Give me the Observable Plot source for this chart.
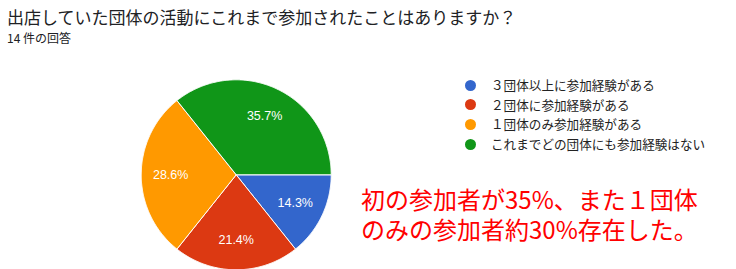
<!DOCTYPE html>
<html>
<head>
<meta charset="utf-8">
<script src="https://cdn.jsdelivr.net/npm/d3@7"></script>
<script src="https://cdn.jsdelivr.net/npm/@observablehq/plot@0.6"></script>
<style>
  html, body { margin: 0; padding: 0; background: #fff; }
  body { width: 736px; height: 269px; position: relative; overflow: hidden; font-family: "Noto Sans CJK JP", "Noto Sans", sans-serif; }
  #header { position: relative; height: 54px; }
  #title { position: absolute; left: 7px; top: 5px; font-size: 17px; color: #202124; white-space: nowrap; line-height: 24px; }
  #subtitle { position: absolute; left: 7px; top: 29px; font-size: 12px; color: #202124; white-space: nowrap; line-height: 18px; }
  #chart { position: relative; height: 215px; }
  #legend { position: absolute; left: 464px; top: 75px; font-size: 12.6px; color: #222; }
  .row { position: relative; height: 19.7px; line-height: 19.7px; padding-left: 27px; white-space: nowrap; }
  .sw { position: absolute; left: 0.5px; top: 4.6px; width: 11px; height: 11px; border-radius: 50%; }
  .note { position: absolute; left: 361px; font-size: 24px; line-height: 28px; color: #ff0000; white-space: nowrap; font-family: "Noto Sans CJK JP", sans-serif; }
</style>
</head>
<body>
<div id="header">
  <div id="title">出店していた団体の活動にこれまで参加されたことはありますか？</div>
  <div id="subtitle">14 件の回答</div>
</div>
<div id="chart"></div>
<div id="legend"></div>
<div class="note" style="top:185px">初の参加者が35%、また１団体</div>
<div class="note" style="top:215px">のみの参加者約30%存在した。</div>
<script>
// ---- data ----
const categories = ["３団体以上に参加経験がある", "２団体に参加経験がある", "１団体のみ参加経験がある", "これまでどの団体にも参加経験はない"];
const counts = [2, 3, 4, 5];
const percentLabels = ["14.3%", "21.4%", "28.6%", "35.7%"];
const colors = ["#3366cc", "#dc3912", "#ff9900", "#109618"];

// ---- layout config ----
const W = 736, H = 215;
const cx = 235.7, cy = 120.3, R = 95;

const pie = d3.pie().sort(null).value(d => d.count)
  .startAngle(Math.PI / 2).endAngle(Math.PI / 2 + 2 * Math.PI);
const data = categories.map((c, i) => ({category: c, count: counts[i], label: percentLabels[i]}));
const arcs = pie(data);

const polyPts = [];
const labelPts = [];
arcs.forEach(a => {
  const cat = a.data.category;
  polyPts.push({category: cat, x: 0, y: 0});
  const n = Math.max(8, Math.ceil((a.endAngle - a.startAngle) / 0.01));
  for (let k = 0; k <= n; k++) {
    const t = a.startAngle + (a.endAngle - a.startAngle) * k / n;
    polyPts.push({category: cat, x: Math.sin(t), y: Math.cos(t)});
  }
  polyPts.push({category: cat, x: 0, y: 0});
  const m = (a.startAngle + a.endAngle) / 2;
  labelPts.push({label: a.data.label, x: 0.69 * Math.sin(m), y: 0.69 * Math.cos(m)});
});

const plot = Plot.plot({
  width: W, height: H,
  margin: 0,
  style: {background: "transparent", overflow: "visible"},
  x: {domain: [-cx / R, (W - cx) / R], axis: null},
  y: {domain: [-(H - cy) / R, cy / R], axis: null},
  color: {domain: categories, range: colors},
  marks: [
    Plot.line(polyPts, {x: "x", y: "y", z: "category", fill: "category", stroke: "white", strokeWidth: 1, strokeLinejoin: "round", curve: "linear"}),
    Plot.text(labelPts, {x: "x", y: "y", text: "label", fill: "white", fontSize: 12.5, fontFamily: "Arial, 'Liberation Sans', sans-serif"})
  ]
});
document.getElementById("chart").appendChild(plot);

// legend
const legend = document.getElementById("legend");
categories.forEach((c, i) => {
  const row = document.createElement("div");
  row.className = "row";
  const sw = document.createElement("span");
  sw.className = "sw";
  sw.style.background = colors[i];
  row.appendChild(sw);
  row.appendChild(document.createTextNode(c));
  legend.appendChild(row);
});
</script>
</body>
</html>
